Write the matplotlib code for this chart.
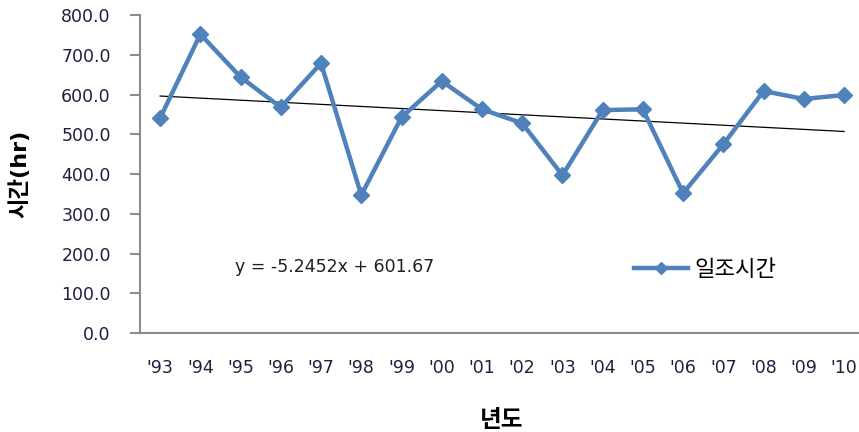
import numpy as np
import matplotlib
matplotlib.use("Agg")
import matplotlib.pyplot as plt

plt.rcParams['font.family'] = ['DejaVu Sans', 'Noto Sans CJK KR']

years = ["'93", "'94", "'95", "'96", "'97", "'98", "'99", "'00", "'01",
         "'02", "'03", "'04", "'05", "'06", "'07", "'08", "'09", "'10"]
hours = [541, 752, 644, 568, 679, 347, 543, 634, 563,
         528, 397, 561, 563, 352, 475, 609, 589, 599]
slope = -5.2452
intercept = 601.67

x = np.arange(1, len(years) + 1)

fig = plt.figure(figsize=(8.59, 4.32), dpi=100)
ax = fig.add_axes([0.163, 0.229, 0.843, 0.736])

ax.plot(x, hours, color='#4F81BD', lw=3.2, marker='D', ms=8,
        label='일조시간', zorder=3)
ax.plot(x, slope * x + intercept, color='black', lw=0.9, zorder=2)

ax.set_xlim(0.5, len(years) + 0.5)
ax.set_ylim(0, 800)
ax.set_yticks(np.arange(0, 801, 100))
ax.set_yticklabels([f"{v:.1f}" for v in np.arange(0, 801, 100)])
ax.set_xticks(x)
ax.set_xticklabels(years)

for s in ['top', 'right']:
    ax.spines[s].set_visible(False)
for s in ['left', 'bottom']:
    ax.spines[s].set_color('#8c8c8c')
    ax.spines[s].set_linewidth(1.5)
ax.tick_params(axis='y', length=7, width=1.5, color='#8c8c8c',
               labelsize=12.5, labelcolor='#1f1f3f', pad=14)
ax.tick_params(axis='x', length=0, labelsize=12.5, labelcolor='#1f1f3f', pad=19)

ax.set_ylabel('시간(hr)', fontsize=16, fontweight='bold', labelpad=22)
ax.set_xlabel('년도', fontsize=17, fontweight='bold', labelpad=22)

ax.text(2.85, 166, f"y = {slope}x + {intercept}", fontsize=12.5, va='center',
        color='#1f1f1f')

ax.legend(loc='center left', bbox_to_anchor=(0.655, 0.2), frameon=False,
          fontsize=16, handlelength=2.4, handletextpad=0.3, markerscale=0.8)

fig.savefig('out.png', dpi=100)
